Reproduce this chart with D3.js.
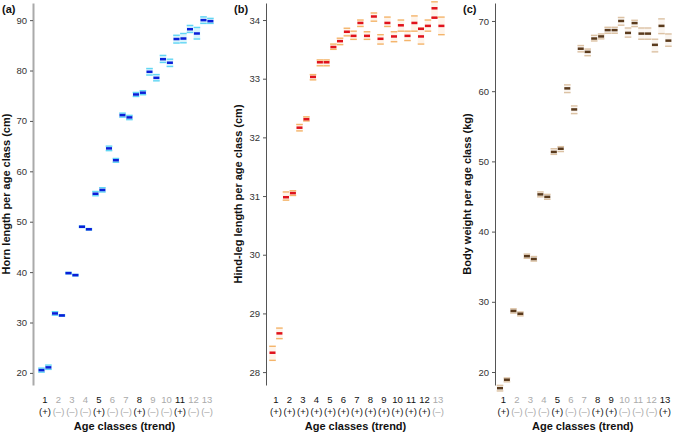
<!DOCTYPE html>
<html><head><meta charset="utf-8">
<script src="https://cdn.jsdelivr.net/npm/d3@7"></script>
<style>body{margin:0;background:#fff}svg{display:block}</style>
</head><body><svg id="c" width="675" height="434"></svg>
<script>
const ageClasses = ["1","2","3","4","5","6","7","8","9","10","11","12","13"];
const yTicksHorn = [20,30,40,50,60,70,80,90];
const yTicksHind = [28,29,30,31,32,33,34];
const yTicksWeight = [20,30,40,50,60,70];

// (a) Horn length
const hornTrend = ["+","–","–","–","+","–","–","+","–","–","+","–","–"];
const hornMeanL = [20.55,31.8,39.8,49.0,55.55,64.55,71.15,75.25,79.75,82.25,86.25,88.2,90.0];
const hornLoL   = [20.15,31.45,39.65,48.85,55.15,64.1,70.75,74.85,79.1,81.6,85.45,87.55,89.35];
const hornHiL   = [20.95,32.15,39.95,49.15,56.0,65.0,71.55,75.65,80.4,83.0,87.0,88.95,90.65];
const hornMeanR = [21.1,31.4,39.4,48.5,56.3,62.2,70.7,75.6,78.55,81.55,86.35,87.35,89.8];
const hornLoR   = [20.7,31.25,39.25,48.35,55.9,61.8,70.25,75.2,77.95,80.8,85.5,86.25,89.35];
const hornHiR   = [21.55,31.55,39.55,48.65,56.75,62.55,71.1,76.0,79.2,82.25,87.35,88.55,90.35];

// (b) Hind-leg length
const hindTrend = ["+","+","+","+","+","+","+","+","+","+","+","+","–"];
const hindMeanL = [28.33,30.98,32.165,33.03,33.28,33.64,33.73,33.73,33.68,33.72,33.73,33.72,34.2];
const hindLoL   = [28.2,30.93,32.11,32.98,33.22,33.58,33.67,33.67,33.59,33.63,33.65,33.59,34.04];
const hindHiL   = [28.44,31.07,32.22,33.07,33.32,33.69,33.81,33.80,33.75,33.80,33.81,33.86,34.31];
const hindMeanR = [28.66,31.05,32.31,33.28,33.54,33.80,33.95,34.06,33.95,33.91,33.95,33.9,33.9];
const hindLoR   = [28.57,31.01,32.28,33.22,33.50,33.73,33.89,33.98,33.89,33.81,33.81,33.81,33.75];
const hindHiR   = [28.75,31.09,32.35,33.32,33.59,33.86,34.0,34.12,34.05,34.0,34.07,34.0,34.05];
const hindExtraClass = ["12","13"];
const hindExtraMean  = [33.85,34.04];

// (c) Body weight
const weightTrend = ["+","–","–","–","+","–","–","+","+","–","–","–","+"];
const weightMeanL = [17.7,28.7,36.5,45.3,51.35,60.4,66.05,67.5,68.7,70.0,69.7,68.2,69.3];
const weightLoL   = [17.3,28.4,36.2,44.95,51.0,59.8,65.6,67.15,68.25,69.4,69.2,67.4,68.2];
const weightHiL   = [18.1,29.0,36.8,45.65,51.8,60.9,66.5,67.95,69.1,70.5,70.1,69.0,70.3];
const weightMeanR = [18.9,28.3,36.1,44.95,51.8,57.4,65.6,67.8,68.7,68.3,68.2,66.6,67.2];
const weightLoR   = [18.6,28.0,35.8,44.6,51.4,56.8,65.05,67.45,68.25,67.7,67.4,65.6,66.4];
const weightHiR   = [19.15,28.55,36.45,45.3,52.1,57.9,66.0,68.15,69.1,69.0,69.0,67.4,68.15];

const FONT = '"Liberation Sans", Arial, Helvetica, sans-serif';
const svg = d3.select("#c");

function panel(cfg) {
  const g = svg.append("g");
  const x = d3.scalePoint().domain(ageClasses).range([cfg.x1, cfg.x13]);
  const y = d3.scaleLinear().domain(cfg.yDomain).range([385, 3]);

  const ax = g.append("g").attr("transform", `translate(${cfg.axisX},0)`)
    .call(d3.axisLeft(y).tickValues(cfg.ticks).tickFormat(d3.format("d"))
      .tickSize(3).tickSizeOuter(0).tickPadding(3));
  ax.attr("font-family", FONT).attr("font-size", 9.5);
  ax.select(".domain").attr("stroke", cfg.axisColor).attr("stroke-width", cfg.axisWidth);
  ax.selectAll(".tick line").attr("stroke", "#555");
  ax.selectAll(".tick text").attr("fill", "#333");

  const W = 6.6;
  const sides = [
    {off: -3.5, mean: cfg.meanL, lo: cfg.loL, hi: cfg.hiL},
    {off: 3.4, mean: cfg.meanR, lo: cfg.loR, hi: cfg.hiR}
  ];
  const mg = g.append("g");
  sides.forEach(s => {
    ageClasses.forEach((c, i) => {
      const cx = x(c) + s.off;
      const yl = y(s.lo[i]), yh = y(s.hi[i]), ym = y(s.mean[i]);
      mg.append("rect").attr("x", cx - W/2).attr("y", yh).attr("width", W)
        .attr("height", Math.max(0, yl - yh)).attr("fill", cfg.band);
      mg.append("rect").attr("x", cx - W/2).attr("y", yh - 0.7).attr("width", W)
        .attr("height", 1.4).attr("fill", cfg.light);
      mg.append("rect").attr("x", cx - W/2).attr("y", yl - 0.7).attr("width", W)
        .attr("height", 1.4).attr("fill", cfg.light);
      mg.append("rect").attr("x", cx - W/2 + 0.3).attr("y", ym - 1.25).attr("width", W - 0.6)
        .attr("height", 2.5).attr("fill", cfg.dark);
    });
  });
  if (cfg.extraClass) {
    cfg.extraClass.forEach((c, i) => {
      const cx = x(c) - 3.5;
      mg.append("rect").attr("x", cx - W/2 + 0.3).attr("y", y(cfg.extraMean[i]) - 1.25)
        .attr("width", W - 0.6).attr("height", 2.5).attr("fill", cfg.dark);
    });
  }

  // class labels
  ageClasses.forEach((c, i) => {
    const col = cfg.trend[i] === "+" ? "#111" : "#aaa";
    g.append("text").attr("x", x(c)).attr("y", 403).attr("text-anchor", "middle")
      .attr("font-family", FONT).attr("font-size", 9.5).attr("fill", col).text(c);
    g.append("text").attr("x", x(c)).attr("y", 415).attr("text-anchor", "middle")
      .attr("font-family", FONT).attr("font-size", 9.5).attr("fill", col)
      .text("(" + cfg.trend[i] + ")");
  });

  g.append("text").attr("x", (cfg.x1 + cfg.x13) / 2 - 1.5).attr("y", 430)
    .attr("text-anchor", "middle").attr("font-family", FONT).attr("font-weight", "bold")
    .attr("font-size", 11).attr("fill", "#111").text("Age classes (trend)");

  g.append("text").attr("transform", `translate(${cfg.titleX},194) rotate(-90)`)
    .attr("text-anchor", "middle").attr("font-family", FONT).attr("font-weight", "bold")
    .attr("font-size", 11).attr("fill", "#111").text(cfg.yTitle);

  g.append("text").attr("x", cfg.letterX).attr("y", 13).attr("font-family", FONT)
    .attr("font-weight", "bold").attr("font-size", 11).attr("fill", "#111").text(cfg.letter);
}

panel({letter: "(a)", letterX: 2, axisX: 33, x1: 45, x13: 207, yDomain: [17.6, 93.4],
  ticks: yTicksHorn, axisColor: "#aaa", axisWidth: 2, titleX: 10,
  yTitle: "Horn length per age class (cm)", trend: hornTrend,
  meanL: hornMeanL, loL: hornLoL, hiL: hornHiL, meanR: hornMeanR, loR: hornLoR, hiR: hornHiR,
  dark: "#0a1ed8", light: "#62d6f4", band: "#d8f4fc"});

panel({letter: "(b)", letterX: 234, axisX: 266, x1: 276, x13: 438, yDomain: [27.78, 34.29],
  ticks: yTicksHind, axisColor: "#555", axisWidth: 1, titleX: 242,
  yTitle: "Hind-leg length per age class (cm)", trend: hindTrend,
  meanL: hindMeanL, loL: hindLoL, hiL: hindHiL, meanR: hindMeanR, loR: hindLoR, hiR: hindHiR,
  extraClass: hindExtraClass, extraMean: hindExtraMean,
  dark: "#e0121c", light: "#f4b46a", band: "#fef4ea"});

panel({letter: "(c)", letterX: 463, axisX: 495, x1: 503.5, x13: 665, yDomain: [18.15, 72.56],
  ticks: yTicksWeight, axisColor: "#555", axisWidth: 1, titleX: 471,
  yTitle: "Body weight per age class (kg)", trend: weightTrend,
  meanL: weightMeanL, loL: weightLoL, hiL: weightHiL, meanR: weightMeanR, loR: weightLoR, hiR: weightHiR,
  dark: "#5a3a1c", light: "#dcc2a4", band: "#faf5f0"});
</script></body></html>
